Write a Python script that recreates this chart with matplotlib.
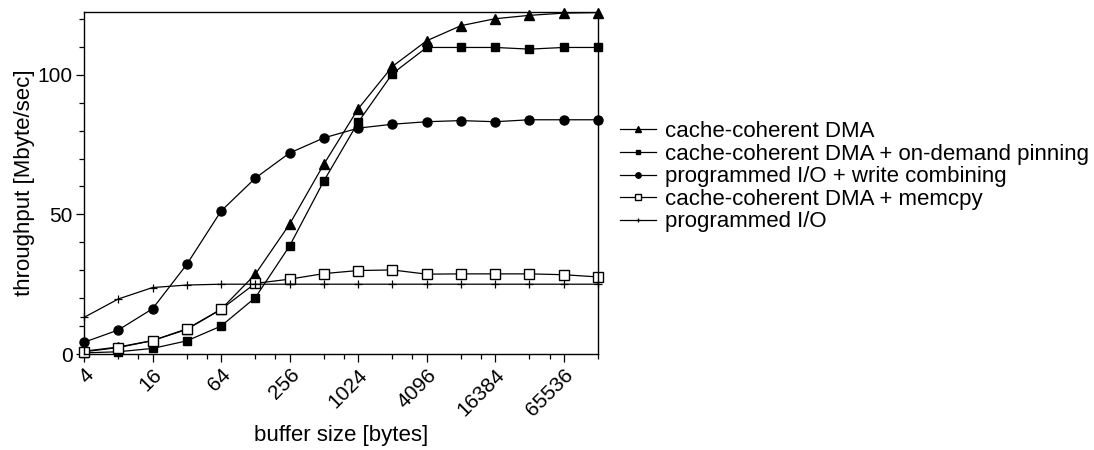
import matplotlib
matplotlib.use("Agg")
import matplotlib.pyplot as plt
from matplotlib.ticker import LogLocator, FuncFormatter, MultipleLocator, NullFormatter

plt.rcParams['font.family'] = ['Liberation Sans', 'DejaVu Sans']

buffer_sizes = [4, 8, 16, 32, 64, 128, 256, 512, 1024, 2048, 4096, 8192,
                16384, 32768, 65536, 131072]
cc_dma = [1.0, 2.5, 4.8, 9.0, 16.0, 28.6, 46.5, 68.0, 87.8, 103.0, 112.2,
          117.6, 120.1, 121.3, 122.1, 122.3]
cc_dma_pinning = [0.4, 0.8, 2.0, 4.7, 10.0, 20.2, 38.7, 62.0, 83.0, 100.4,
                  109.8, 109.8, 109.8, 109.2, 109.8, 109.8]
pio_wc = [4.2, 8.6, 16.2, 32.1, 51.2, 63.0, 72.0, 77.4, 80.9, 82.3, 83.2,
          83.6, 83.2, 83.9, 83.9, 83.9]
cc_dma_memcpy = [0.8, 2.3, 4.8, 8.8, 16.0, 25.3, 26.8, 28.8, 29.9, 30.1,
                 28.6, 28.7, 28.7, 28.7, 28.4, 27.6]
pio = [13.1, 19.7, 23.8, 24.7, 25.0, 25.0, 25.0, 25.0, 25.0, 25.0, 25.0,
       25.0, 25.0, 25.0, 25.0, 25.0]

labels = ["cache-coherent DMA",
          "cache-coherent DMA + on-demand pinning",
          "programmed I/O + write combining",
          "cache-coherent DMA + memcpy",
          "programmed I/O"]

fig = plt.figure(figsize=(10.94, 4.5), dpi=100)
ax = fig.add_axes([84/1094, 1-354/450, (598-84)/1094, (354-12)/450])

lw = 0.9
common = dict(color='black', linewidth=lw, clip_on=False)
ax.plot(buffer_sizes, cc_dma, marker='^', markersize=6.5, label=labels[0], **common)
ax.plot(buffer_sizes, cc_dma_pinning, marker='s', markersize=6, label=labels[1], **common)
ax.plot(buffer_sizes, pio_wc, marker='o', markersize=6.5, label=labels[2], **common)
ax.plot(buffer_sizes, cc_dma_memcpy, marker='s', markersize=6.5, markerfacecolor='white',
        markeredgewidth=1.0, label=labels[3], **common)
ax.plot(buffer_sizes, pio, marker='+', markersize=6, markeredgewidth=0.9, label=labels[4], **common)

ax.set_xscale('log', base=4)
ax.set_xlim(4, 131072)
ax.set_ylim(0, 122.5)
ax.xaxis.set_major_locator(LogLocator(base=4, subs=(1.0,)))
ax.xaxis.set_minor_locator(LogLocator(base=4, subs=(2.0, 3.0)))
ax.xaxis.set_major_formatter(FuncFormatter(lambda v, p: f"{int(round(v))}"))
ax.xaxis.set_minor_formatter(NullFormatter())
ax.yaxis.set_major_locator(MultipleLocator(50))
ax.yaxis.set_minor_locator(MultipleLocator(10))

ax.tick_params(which='major', direction='out', length=6, width=0.9, labelsize=15, pad=2)
ax.tick_params(which='minor', direction='out', length=3.5, width=0.9)
for lab in ax.get_xticklabels():
    lab.set_rotation(45)
    lab.set_ha('right')
    lab.set_va('top')
    lab.set_rotation_mode('anchor')
for s in ax.spines.values():
    s.set_linewidth(1.0)

ax.set_xlabel("buffer size [bytes]", fontsize=16, labelpad=4)
ax.set_ylabel("throughput [Mbyte/sec]", fontsize=16, labelpad=2)

leg = fig.legend(loc='center left', bbox_to_anchor=(0.567, 0.607), frameon=False,
                 fontsize=16, handlelength=1.6, handletextpad=0.42, labelspacing=0.07,
                 markerscale=0.6, borderaxespad=0, borderpad=0)

fig.savefig("out.png", dpi=100)
